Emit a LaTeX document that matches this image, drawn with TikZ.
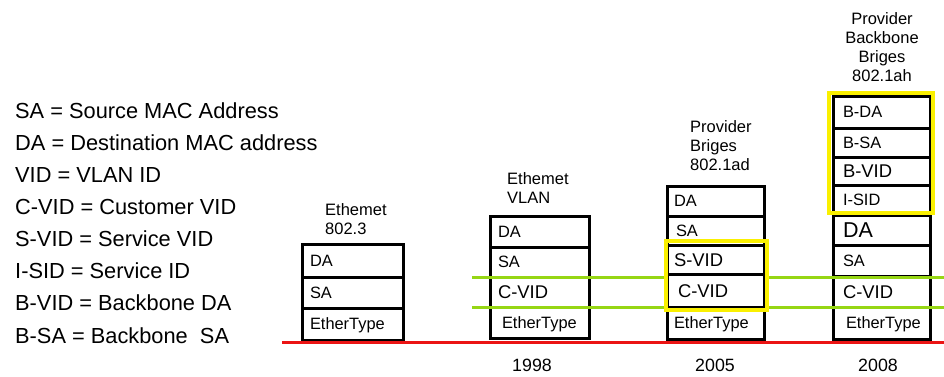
\documentclass[tikz,border=0pt]{standalone}
\usepackage{fontspec}
\setmainfont{Liberation Sans}
\definecolor{tagline}{RGB}{150,214,20}
\definecolor{hilite}{RGB}{250,240,0}
\definecolor{baseline}{RGB}{235,20,20}
\tikzset{
  cell/.style={draw, line width=3pt, fill=white, anchor=north west, outer sep=0pt,
    inner ysep=0pt, align=left, font=\fontsize{16.4}{18}\selectfont,
    text height=11.7pt, text depth=0pt},
  big/.style={font=\fontsize{18.4}{20}\selectfont, text height=13.2pt},
  huge/.style={font=\fontsize{21.5}{23}\selectfont, text height=15.4pt},
  colA/.style={text width=85pt, inner xsep=8pt},
  colB/.style={text width=83pt, inner xsep=8pt},
  colC/.style={text width=83pt, inner xsep=7pt},
  colD/.style={text width=77pt, inner xsep=10pt},
  head/.style={inner sep=0pt, font=\fontsize{16.5}{19.2}\selectfont},
  year/.style={inner sep=0pt, font=\fontsize{17.8}{20}\selectfont},
  legend/.style={inner sep=0pt, anchor=base west, font=\fontsize{21.8}{24}\selectfont},
  tagbar/.style={draw=tagline, line width=3pt},
  hibox/.style={draw=hilite, line width=3.5pt},
  floor/.style={draw=baseline, line width=3pt}
}
\begin{document}
\begin{tikzpicture}[x=1pt,y=-1pt]
\useasboundingbox[fill=white] (0,0) rectangle (944,376);

% abbreviations
\foreach \t [count=\k from 0] in {SA = Source MAC Address, DA = Destination MAC address,
  VID = VLAN ID, C-VID = Customer VID, S-VID = Service VID, I-SID = Service ID,
  B-VID = Backbone DA, B-SA = Backbone~~SA}
  \node[legend] (l\k) at (15,118.3+32.1*\k) {\t};

% 802.3 frame
\node[head, anchor=north west, align=left] (ha) at (325,203) {Ethemet\\802.3};
\node[cell, colA, minimum height=33pt] (a1) at (302,244) {DA};
\node[cell, colA, minimum height=31pt] (a2) at (302,277) {SA};
\node[cell, colA, minimum height=32pt] (a3) at (302,308) {EtherType};

% VLAN frame
\node[head, anchor=north west, align=left] (hb) at (507,172) {Ethemet\\VLAN};
\node[cell, colB, minimum height=31pt] (b1) at (490,216) {DA};
\node[cell, colB, minimum height=30pt] (b2) at (490,247) {SA};
\node[cell, colB, big, minimum height=30pt] (b3) at (490,277) {C-VID};
\node[cell, colB, minimum height=31pt, inner xsep=12pt, text width=75pt] (b4) at (490,307) {EtherType};

% 802.1ah frame
\node[head, anchor=north, align=center] (hd) at (882,12) {Provider\\Backbone\\Briges\\802.1ah};
\node[cell, colD, minimum height=32pt] (d1) at (833,96) {B-DA};
\node[cell, colD, minimum height=29pt] (d2) at (833,128) {B-SA};
\node[cell, colD, big, minimum height=28pt] (d3) at (833,157) {B-VID};
\node[cell, colD, minimum height=30pt] (d4) at (833,185) {I-SID};
\node[cell, colD, huge, minimum height=30pt] (d5) at (833,215) {DA};
\node[cell, colD, minimum height=31pt] (d6) at (833,245) {SA};
\node[cell, colD, big, minimum height=31pt] (d7) at (833,276) {C-VID};
\node[cell, colD, minimum height=32pt, inner xsep=13pt, text width=71pt] (d8) at (833,307) {EtherType};

% tag positions carried across the frames
\coordinate (g0) at (472,277);
\coordinate (g1) at (944,277);
\coordinate (g2) at (472,307);
\coordinate (g3) at (944,307);
\draw[tagbar] (g0) -- (g1);
\draw[tagbar] (g2) -- (g3);

% 802.1ad frame
\node[head, anchor=north west, align=left] (hc) at (690,120) {Provider\\Briges\\802.1ad};
\node[cell, colC, minimum height=30pt] (c1) at (667,186) {DA};
\node[cell, colC, minimum height=29pt, inner xsep=9pt, text width=79pt] (c2) at (667,216) {SA};
\node[cell, colC, big, minimum height=29pt] (c3) at (667,245) {S-VID};
\node[cell, colC, big, minimum height=33pt, inner xsep=11pt, text width=75pt] (c4) at (667,274) {C-VID};
\node[cell, colC, minimum height=32pt] (c5) at (667,307) {EtherType};

% highlighted tag groups
\coordinate (y0) at (666,241);
\coordinate (y1) at (767,310);
\draw[hibox] (y0) rectangle (y1);
\coordinate (y2) at (829,93);
\coordinate (y3) at (933,213);
\draw[hibox] (y2) rectangle (y3);

% time line
\coordinate (r0) at (282,342);
\coordinate (r1) at (944,342);
\draw[floor] (r0) -- (r1);
\node[year] (yb) at (532,365) {1998};
\node[year] (yc) at (715,365) {2005};
\node[year] (yd) at (878,365) {2008};
\end{tikzpicture}
\end{document}
